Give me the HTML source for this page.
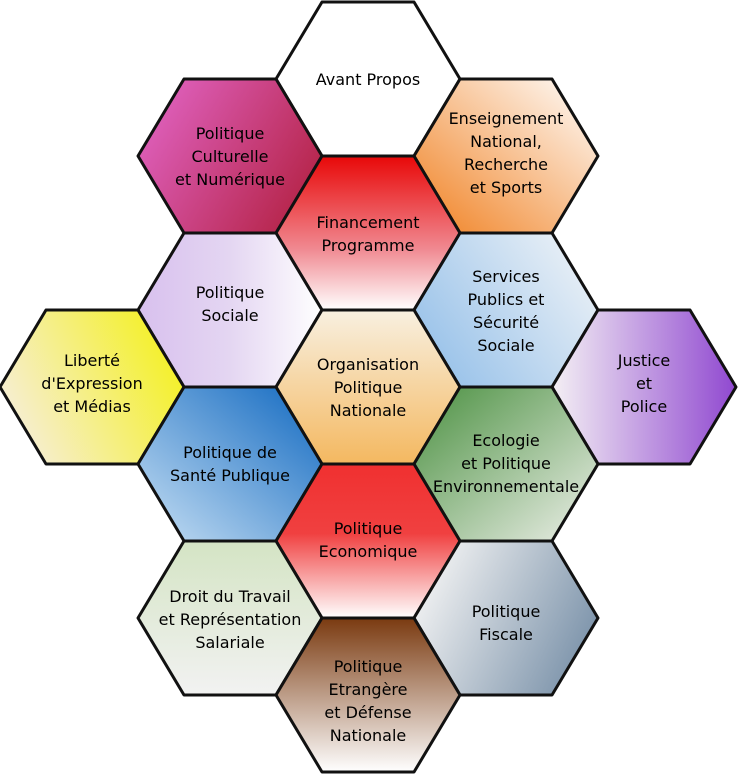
<!DOCTYPE html>
<html><head><meta charset="utf-8"><style>
html,body{margin:0;padding:0;background:#fff;}
svg{display:block;}
text{font-family:"DejaVu Sans","Liberation Sans",sans-serif;font-size:16px;fill:#000;text-anchor:middle;}
</style></head><body>
<svg width="738" height="776" viewBox="0 0 738 776" xmlns="http://www.w3.org/2000/svg">
<defs>
<linearGradient id="g1" x1="0" y1="0" x2="1" y2="0.5"><stop offset="0" stop-color="#e468cc"/><stop offset="1" stop-color="#b82850"/></linearGradient>
<linearGradient id="g2" x1="0" y1="1" x2="1" y2="0"><stop offset="0" stop-color="#f08020"/><stop offset="1" stop-color="#ffffff"/></linearGradient>
<linearGradient id="g3" x1="0" y1="0" x2="0" y2="1"><stop offset="0" stop-color="#e80808"/><stop offset="0.6" stop-color="#f08890"/><stop offset="1" stop-color="#ffffff"/></linearGradient>
<linearGradient id="g4" x1="0" y1="0" x2="1" y2="0"><stop offset="0" stop-color="#d8c0ee"/><stop offset="0.5" stop-color="#e4d6f2"/><stop offset="1" stop-color="#ffffff"/></linearGradient>
<linearGradient id="g5" x1="0" y1="0.6" x2="1" y2="0"><stop offset="0" stop-color="#9cc4ea"/><stop offset="1" stop-color="#f4f6f8"/></linearGradient>
<linearGradient id="g6" x1="0" y1="0.7" x2="1" y2="0.3"><stop offset="0" stop-color="#f6eedc"/><stop offset="1" stop-color="#f4f020"/></linearGradient>
<linearGradient id="g7" x1="0" y1="0" x2="0" y2="1"><stop offset="0" stop-color="#f8f0e0"/><stop offset="1" stop-color="#f4b860"/></linearGradient>
<linearGradient id="g8" x1="0" y1="0" x2="1" y2="0"><stop offset="0" stop-color="#f4f0f4"/><stop offset="1" stop-color="#9048d0"/></linearGradient>
<linearGradient id="g9" x1="0" y1="1" x2="1" y2="0"><stop offset="0" stop-color="#c8e0f4"/><stop offset="1" stop-color="#1068c0"/></linearGradient>
<linearGradient id="g10" x1="0" y1="0" x2="1" y2="1"><stop offset="0" stop-color="#4a9040"/><stop offset="1" stop-color="#eef0ea"/></linearGradient>
<linearGradient id="g11" x1="0" y1="0" x2="0" y2="1"><stop offset="0" stop-color="#f03030"/><stop offset="0.45" stop-color="#f04040"/><stop offset="1" stop-color="#ffffff"/></linearGradient>
<linearGradient id="g12" x1="0" y1="0" x2="0" y2="1"><stop offset="0" stop-color="#d4e4c4"/><stop offset="1" stop-color="#f2f2f2"/></linearGradient>
<linearGradient id="g13" x1="0" y1="0.3" x2="1" y2="0.7"><stop offset="0" stop-color="#f4f4f4"/><stop offset="1" stop-color="#7890a8"/></linearGradient>
<linearGradient id="g14" x1="0" y1="0" x2="0" y2="1"><stop offset="0" stop-color="#7a3a10"/><stop offset="1" stop-color="#ffffff"/></linearGradient>
</defs>
<g stroke="#111" stroke-width="3" stroke-linejoin="round">
<polygon fill="#fff" points="276,79 322,2 414,2 460,79 414,156 322,156"/>
<polygon fill="url(#g1)" points="138,156 184,79 276,79 322,156 276,233 184,233"/>
<polygon fill="url(#g2)" points="414,156 460,79 552,79 598,156 552,233 460,233"/>
<polygon fill="url(#g3)" points="276,233 322,156 414,156 460,233 414,310 322,310"/>
<polygon fill="url(#g4)" points="138,310 184,233 276,233 322,310 276,387 184,387"/>
<polygon fill="url(#g5)" points="414,310 460,233 552,233 598,310 552,387 460,387"/>
<polygon fill="url(#g6)" points="0,387 46,310 138,310 184,387 138,464 46,464"/>
<polygon fill="url(#g7)" points="276,387 322,310 414,310 460,387 414,464 322,464"/>
<polygon fill="url(#g8)" points="552,387 598,310 690,310 736,387 690,464 598,464"/>
<polygon fill="url(#g9)" points="138,464 184,387 276,387 322,464 276,541 184,541"/>
<polygon fill="url(#g10)" points="414,464 460,387 552,387 598,464 552,541 460,541"/>
<polygon fill="url(#g11)" points="276,541 322,464 414,464 460,541 414,618 322,618"/>
<polygon fill="url(#g12)" points="138,618 184,541 276,541 322,618 276,695 184,695"/>
<polygon fill="url(#g13)" points="414,618 460,541 552,541 598,618 552,695 460,695"/>
<polygon fill="url(#g14)" points="276,695 322,618 414,618 460,695 414,772 322,772"/>
</g>
<text x="368" y="85">Avant Propos</text>
<text x="230" y="139">Politique</text><text x="230" y="162">Culturelle</text><text x="230" y="185">et Numérique</text>
<text x="506" y="124">Enseignement</text><text x="506" y="147">National,</text><text x="506" y="170">Recherche</text><text x="506" y="193">et Sports</text>
<text x="368" y="228">Financement</text><text x="368" y="251">Programme</text>
<text x="230" y="298">Politique</text><text x="230" y="321">Sociale</text>
<text x="506" y="282">Services</text><text x="506" y="305">Publics et</text><text x="506" y="328">Sécurité</text><text x="506" y="351">Sociale</text>
<text x="92" y="366">Liberté</text><text x="92" y="389">d'Expression</text><text x="92" y="412">et Médias</text>
<text x="368" y="370">Organisation</text><text x="368" y="393">Politique</text><text x="368" y="416">Nationale</text>
<text x="644" y="366">Justice</text><text x="644" y="389">et</text><text x="644" y="412">Police</text>
<text x="230" y="458">Politique de</text><text x="230" y="481">Santé Publique</text>
<text x="506" y="446">Ecologie</text><text x="506" y="469">et Politique</text><text x="506" y="492">Environnementale</text>
<text x="368" y="534">Politique</text><text x="368" y="557">Economique</text>
<text x="230" y="602">Droit du Travail</text><text x="230" y="625">et Représentation</text><text x="230" y="648">Salariale</text>
<text x="506" y="617">Politique</text><text x="506" y="640">Fiscale</text>
<text x="368" y="672">Politique</text><text x="368" y="695">Etrangère</text><text x="368" y="718">et Défense</text><text x="368" y="741">Nationale</text>
</svg>
</body></html>
